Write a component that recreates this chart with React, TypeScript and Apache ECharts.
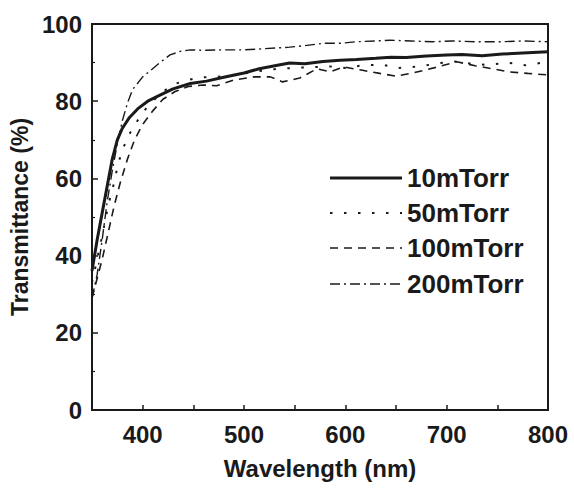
import React, { useEffect, useRef } from "react";
import * as echarts from "echarts";

const seriesNames = ["10mTorr", "50mTorr", "100mTorr", "200mTorr"];

const wl10 = [350, 355, 360, 365, 370, 375, 380, 387, 395, 405, 415, 430, 447, 463, 480, 500, 515, 533, 545, 560, 578, 595, 611, 630, 645, 660, 680, 700, 715, 735, 755, 775, 800];
const t10 = [36, 44, 51, 58, 65, 70, 73, 75.8, 78, 80, 81.3, 83.2, 84.6, 85.2, 86.2, 87.3, 88.4, 89.3, 89.9, 89.7, 90.3, 90.6, 90.8, 91.1, 91.4, 91.3, 91.7, 92, 92.1, 91.8, 92.2, 92.5, 92.8];

const wl50 = [350, 355, 360, 366, 371, 376, 381, 388, 395, 402, 410, 420, 432, 444, 460, 478, 495, 515, 530, 548, 565, 585, 600, 620, 637, 652, 668, 688, 705, 722, 740, 760, 778, 800];
const t50 = [33, 39, 45, 53, 58, 64, 68, 72, 75, 77.7, 80, 82.5, 84.5, 85.5, 86.2, 86.4, 87, 87.8, 88.3, 88.6, 88.8, 89, 88.6, 89.4, 89.4, 88.6, 88.9, 89.6, 90.4, 89.8, 89.4, 90, 89.3, 90.2];

const wl100 = [350, 355, 360, 366, 372, 378, 385, 392, 400, 410, 420, 432, 445, 460, 473, 490, 510, 526, 538, 555, 572, 585, 598, 617, 634, 650, 668, 690, 710, 728, 745, 762, 780, 800];
const t100 = [29, 34, 39, 46, 53, 59, 65, 70, 74, 77.5, 80.5, 82.5, 83.8, 84.2, 84, 85.5, 86.3, 86.3, 85, 86, 88.4, 87.6, 88.9, 88, 87.2, 86.5, 87.4, 88.8, 90.2, 89.2, 88.4, 87.6, 87.2, 86.8];

const wl200 = [350, 355, 360, 365, 370, 375, 380, 385, 390, 400, 408, 417, 427, 437, 447, 460, 479, 500, 520, 545, 560, 578, 595, 611, 630, 644, 665, 686, 705, 730, 753, 775, 800];
const t200 = [29, 35, 44, 54, 62, 69, 75, 79.5, 83, 86.3, 88, 90, 92, 92.9, 93.3, 93.2, 93.3, 93.3, 93.6, 94, 94.4, 95, 95, 95.4, 95.6, 95.8, 95.6, 95.4, 95.6, 95.4, 95.4, 95.6, 95.4];

const xTickLabels = [400, 500, 600, 700, 800];

const pairs = (xs: number[], ys: number[]) => xs.map((x, i) => [x, ys[i]]);

const FONT = "'Liberation Sans', Arial, sans-serif";
const INK = "#1a1a1a";

const styles = [
  { width: 3, dash: null as number[] | null },
  { width: 2, dash: [2.5, 11.5] },
  { width: 1.6, dash: [8, 6] },
  { width: 1.4, dash: [10, 4, 2, 4] },
];

export default function App() {
  const ref = useRef<HTMLDivElement>(null);
  useEffect(() => {
    if (!ref.current) return;
    const chart = echarts.init(ref.current, null, { renderer: "svg" });
    const lineBase = { type: "line", showSymbol: false, symbol: "none", smooth: false, z: 3 };
    const legendY = [178, 213, 248, 284];
    const legendGraphics: any[] = [];
    seriesNames.forEach((name, i) => {
      legendGraphics.push({
        type: "line",
        shape: { x1: 330, y1: legendY[i], x2: 402, y2: legendY[i] },
        style: { stroke: INK, lineWidth: styles[i].width, lineDash: styles[i].dash || undefined },
        z: 10,
      });
      legendGraphics.push({
        type: "text",
        x: 407,
        y: legendY[i],
        style: { text: name, fill: INK, font: `bold 26px ${FONT}`, textVerticalAlign: "middle", verticalAlign: "middle" },
        z: 10,
      });
    });
    chart.setOption({
      animation: false,
      backgroundColor: "#ffffff",
      grid: {
        left: 92,
        right: 26,
        top: 24,
        bottom: 87,
        show: true,
        borderColor: INK,
        borderWidth: 2,
        backgroundColor: "transparent",
      },
      graphic: legendGraphics,
      xAxis: {
        type: "value",
        min: 350,
        max: 800,
        interval: 50,
        axisLine: { show: true, lineStyle: { color: INK, width: 2 } },
        axisTick: { show: true, inside: true, length: 5, lineStyle: { color: INK, width: 1.5 } },
        splitLine: { show: false },
        axisLabel: {
          fontFamily: FONT,
          fontSize: 24,
          fontWeight: "bold",
          color: INK,
          margin: 12,
          formatter: (v: number) => (xTickLabels.includes(v) ? String(v) : ""),
        },
        name: "Wavelength (nm)",
        nameLocation: "middle",
        nameGap: 46,
        nameTextStyle: { fontFamily: FONT, fontSize: 24, fontWeight: "bold", color: INK },
      },
      yAxis: {
        type: "value",
        min: 0,
        max: 100,
        interval: 20,
        axisLine: { show: true, lineStyle: { color: INK, width: 2 } },
        axisTick: { show: true, inside: true, length: 6, lineStyle: { color: INK, width: 1.5 } },
        minorTick: { show: true, splitNumber: 2, length: 3, lineStyle: { color: INK, width: 1.2 } },
        splitLine: { show: false },
        axisLabel: { fontFamily: FONT, fontSize: 24, fontWeight: "bold", color: INK, margin: 10 },
        name: "Transmittance (%)",
        nameLocation: "middle",
        nameGap: 53,
        nameTextStyle: { fontFamily: FONT, fontSize: 23, fontWeight: "bold", color: INK },
      },
      series: seriesNames.map((name, i) => ({
        ...lineBase,
        name,
        data: pairs([wl10, wl50, wl100, wl200][i], [t10, t50, t100, t200][i]),
        lineStyle: { color: INK, width: styles[i].width, type: styles[i].dash || "solid", cap: "butt" },
        itemStyle: { color: INK },
      })),
    });
    return () => chart.dispose();
  }, []);
  return (
    <div
      ref={ref}
      style={{ position: "fixed", left: 0, top: 0, width: 574, height: 497, background: "#fff" }}
    />
  );
}
